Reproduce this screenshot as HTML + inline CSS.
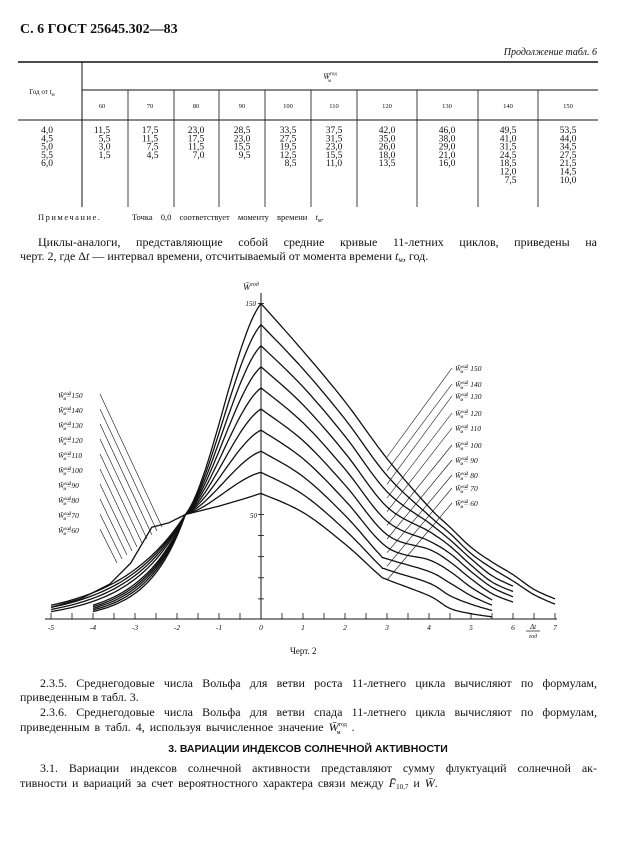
<!DOCTYPE html>
<html><head><meta charset="utf-8">
<style>
html,body{margin:0;padding:0;background:#fff;}
svg{display:block;}
text{font-family:"Liberation Serif",serif;fill:#111;}
.s{font-family:"Liberation Sans",sans-serif;}
</style></head><body>
<svg id="g" width="617" height="847" viewBox="0 0 617 847" xmlns="http://www.w3.org/2000/svg">
<text x="20" y="33" font-size="14" font-weight="bold">С. 6 ГОСТ 25645.302—83</text>
<text x="597" y="55" font-size="10" font-style="italic" text-anchor="end">Продолжение табл. 6</text>
<g stroke="#111" fill="none">
<line x1="18" y1="62" x2="598" y2="62" stroke-width="1.6"/>
<line x1="82" y1="62" x2="82" y2="207" stroke-width="1"/>
<line x1="82" y1="90" x2="598" y2="90" stroke-width="1"/>
<line x1="18" y1="120" x2="598" y2="120" stroke-width="1"/>
<g stroke-width="0.8">
<line x1="128" y1="90" x2="128" y2="207"/><line x1="174" y1="90" x2="174" y2="207"/>
<line x1="219" y1="90" x2="219" y2="207"/><line x1="265" y1="90" x2="265" y2="207"/>
<line x1="311" y1="90" x2="311" y2="207"/><line x1="357" y1="90" x2="357" y2="207"/>
<line x1="417" y1="90" x2="417" y2="207"/><line x1="478" y1="90" x2="478" y2="207"/>
<line x1="538" y1="90" x2="538" y2="207"/>
</g></g>
<text x="42" y="94" font-size="7" text-anchor="middle">Год от <tspan font-style="italic">t</tspan><tspan font-size="5" dy="2">м</tspan></text>
<text x="330" y="79" font-size="8" text-anchor="middle" font-style="italic">W̄<tspan font-size="5" dy="-4" font-style="normal">год</tspan><tspan font-size="5" dx="-9" dy="7">м</tspan></text>
<g id="tab" text-anchor="middle"></g>
<text x="38" y="220" font-size="8.5" letter-spacing="1.5">Примечание.</text>
<text x="132" y="220" font-size="8.5" word-spacing="6">Точка  0,0 соответствует моменту времени <tspan font-style="italic">t</tspan><tspan font-size="6" dy="2">м</tspan><tspan dy="-2">.</tspan></text>
<text id="j1" x="38" y="246" font-size="12">Циклы-аналоги, представляющие собой средние кривые 11-летних циклов, приведены на</text>
<text x="20" y="260" font-size="12">черт. 2, где Δ<tspan font-style="italic">t</tspan> — интервал времени, отсчитываемый от момента времени <tspan font-style="italic">t</tspan><tspan font-size="7" dy="2">м</tspan><tspan dy="-2">, год.</tspan></text>

<g id="chart" stroke="#111" fill="none"></g>
<text x="243" y="290" font-size="9" font-style="italic">W̄<tspan font-size="6" dy="-4">год</tspan></text>
<text x="256" y="306" font-size="7" font-style="italic" text-anchor="end">150</text>
<text x="257" y="518" font-size="7" font-style="italic" text-anchor="end">50</text>
<g id="xl" font-size="7.5" font-style="italic" text-anchor="middle"></g>
<text x="533" y="629" font-size="7" font-style="italic" text-anchor="middle">Δt</text>
<line x1="526" y1="631" x2="540" y2="631" stroke="#111" stroke-width="0.7"/>
<text x="533" y="638" font-size="6" font-style="italic" text-anchor="middle">год</text>
<g id="labs" font-size="7.5" font-style="italic"></g>
<text x="290" y="654" font-size="9">Черт. 2</text>

<text id="j2" x="40" y="687" font-size="12">2.3.5. Среднегодовые числа Вольфа для ветви роста 11-летнего цикла вычисляют по формулам,</text>
<text x="20" y="701" font-size="12">приведенным в табл. 3.</text>
<text id="j3" x="40" y="716" font-size="12">2.3.6. Среднегодовые числа Вольфа для ветви спада 11-летнего цикла вычисляют по формулам,</text>
<text x="20" y="731" font-size="12" word-spacing="2">приведенным в табл. 4, используя  вычисленное значение <tspan font-style="italic">W̄</tspan><tspan font-size="6" dy="-5">год</tspan><tspan font-size="6" dx="-10" dy="8">м</tspan><tspan dy="-3" dx="6"> .</tspan></text>
<text x="308" y="752" font-size="10.5" font-weight="bold" class="s" text-anchor="middle">3. ВАРИАЦИИ ИНДЕКСОВ СОЛНЕЧНОЙ АКТИВНОСТИ</text>
<text id="j4" x="40" y="772" font-size="12">3.1. Вариации индексов солнечной активности представляют сумму флуктуаций солнечной ак-</text>
<text x="20" y="787" font-size="12" word-spacing="2">тивности и вариаций за счет вероятностного характера  связи между <tspan font-style="italic">F̄</tspan><tspan font-size="7" dy="2">10,7</tspan><tspan dy="-2"> и </tspan><tspan font-style="italic">W̄</tspan>.</text>
</svg>
<script>
const NS="http://www.w3.org/2000/svg";
function el(p,tag,a,txt){const e=document.createElementNS(NS,tag);for(const k in a)e.setAttribute(k,a[k]);if(txt!==undefined)e.textContent=txt;p.appendChild(e);return e;}
['j1','j2','j3','j4'].forEach(id=>{const e=document.getElementById(id);const x=+e.getAttribute('x');
 const target=597-x;let len=e.getComputedTextLength();
 if(len>target){e.setAttribute('textLength',target);e.setAttribute('lengthAdjust','spacingAndGlyphs');return;}
 const n=(e.textContent.match(/ /g)||[]).length;
 if(n>0)e.setAttribute('word-spacing',((target-len)/n).toFixed(2));});
const tab=document.getElementById('tab');
const cx=[102,150,196,242,288,334,387,447,508,568];
const W=[60,70,80,90,100,110,120,130,140,150];
const T={60:[11.5,5.5,3,1.5],70:[17.5,11.5,7.5,4.5],80:[23,17.5,11.5,7],90:[28.5,23,15.5,9.5],
100:[33.5,27.5,19.5,12.5,8.5],110:[37.5,31.5,23,15.5,11],120:[42,35,26,18,13.5],130:[46,38,29,21,16],
140:[49.5,41,31.5,24.5,18.5,12,7.5],150:[53.5,44,34.5,27.5,21.5,14.5,10]};
const fmt=v=>v.toFixed(1).replace('.',',');
W.forEach((w,i)=>{el(tab,'text',{x:cx[i],y:108,'font-size':6.5},String(w));
 T[w].forEach((v,j)=>el(tab,'text',{x:cx[i]+(v<10?2.5:0),y:133+j*8.3,'font-size':9.5},fmt(v)));});
['4,0','4,5','5,0','5,5','6,0'].forEach((s,j)=>el(tab,'text',{x:47,y:133+j*8.3,'font-size':9.5},s));
const ch=document.getElementById('chart');
const X=t=>261+42*t, Y=v=>620-2.11*v;
el(ch,'line',{x1:45,y1:619,x2:557,y2:619,'stroke-width':1.1});
el(ch,'line',{x1:261,y1:293,x2:261,y2:619,'stroke-width':1});
for(let t=-5;t<=7.01;t+=0.5)el(ch,'line',{x1:X(t),y1:619,x2:X(t),y2:613,'stroke-width':0.8});
[10,20,30,40,50,150].forEach(v=>el(ch,'line',{x1:258,y1:Y(v),x2:264,y2:Y(v),'stroke-width':0.8}));
const xl=document.getElementById('xl');
[-5,-4,-3,-2,-1,0,1,2,3,4,5,6,7].forEach(t=>el(xl,'text',{x:X(t),y:630},t<0?'-'+(-t):String(t)));
const P150={0:1,1:.85,2:.69,3:.51}, P60={0:1,1:.85,2:.6,3:.32};
function lerp(a,b,f){return a+(b-a)*f;}
function rightPts(w){
 const f=(w-60)/90;const kn=[];
 for(const t of [0,1,2,3])kn.push([t,w*lerp(P60[t],P150[t],f)]);
 if(w<=80)kn.splice(3,0,[2.8,w*lerp(.36,.52,f)]);
 T[w].forEach((v,j)=>kn.push([4+0.5*j,v]));
 const out=[];
 for(let i=0;i<kn.length-1;i++){
  const p0=kn[Math.max(0,i-1)],p1=kn[i],p2=kn[i+1],p3=kn[Math.min(kn.length-1,i+2)];
  for(let s=0;s<10;s++){const u=s/10,u2=u*u,u3=u2*u;
   const c=(a,b,c_,d)=>0.5*((2*b)+(-a+c_)*u+(2*a-5*b+4*c_-d)*u2+(-a+3*b-3*c_+d)*u3);
   out.push([c(p0[0],p1[0],p2[0],p3[0]),c(p0[1],p1[1],p2[1],p3[1])]);}
 }
 out.push(kn[kn.length-1]);return out;
}
function leftPts(w){
 const out=[];
 if(w===60){
  return [[-5,6],[-4.3,10],[-3.6,17],[-3.1,27],[-2.6,44],[-2.2,46],[-1.8,50],[-1,54],[-0.4,57.5],[0,60]];}
 const i=(w-70)/10;
 const t0=w<=100?-5:-4, s0=w<=100?lerp(7,4,i/3):lerp(7,4,(i-4)/4);
 const k=Math.log(50/s0)/(-1.8-t0);
 for(let t=t0;t<-1.8;t+=0.1)out.push([t,50*Math.exp(k*(t+1.8))]);
 for(let s=0;s<=30;s++){const u=s/30;const sm=u*u*(3-2*u);const g=0.45*u+0.55*sm;
  out.push([-1.8+1.8*u,50+(w-50)*g]);}
 return out;
}
W.forEach(w=>{
 const pts=leftPts(w).concat(rightPts(w).slice(1));
 el(ch,'path',{d:'M'+pts.map(p=>X(p[0]).toFixed(1)+','+Y(p[1]).toFixed(1)).join(' L'),'stroke-width':1.3,'stroke-linejoin':'round'});
});
const labs=document.getElementById('labs');
W.slice().reverse().forEach((w,i)=>{
 const ly=398+15*i;
 const lt=el(labs,'text',{x:58,y:ly},'');
 lt.innerHTML='W̄<tspan font-size="5" dy="-3">год</tspan><tspan font-size="5" dx="-8" dy="5">м</tspan><tspan dy="-2">='+w+'</tspan>';
 el(ch,'line',{x1:100,y1:ly-4,x2:lerp(162,117,i/9),y2:lerp(527,563,i/9),'stroke-width':0.6});
 const ry=[368,384,396,413,428,445,460,475,488,503][i];
 const rt=el(labs,'text',{x:455,y:ry+3},'');
 rt.innerHTML='W̄<tspan font-size="5" dy="-3">год</tspan><tspan font-size="5" dx="-8" dy="5">м</tspan><tspan dy="-2">= '+w+'</tspan>';
 el(ch,'line',{x1:452,y1:ry,x2:387,y2:lerp(457,580,i/9),'stroke-width':0.6});
});
</script>
</body></html>
